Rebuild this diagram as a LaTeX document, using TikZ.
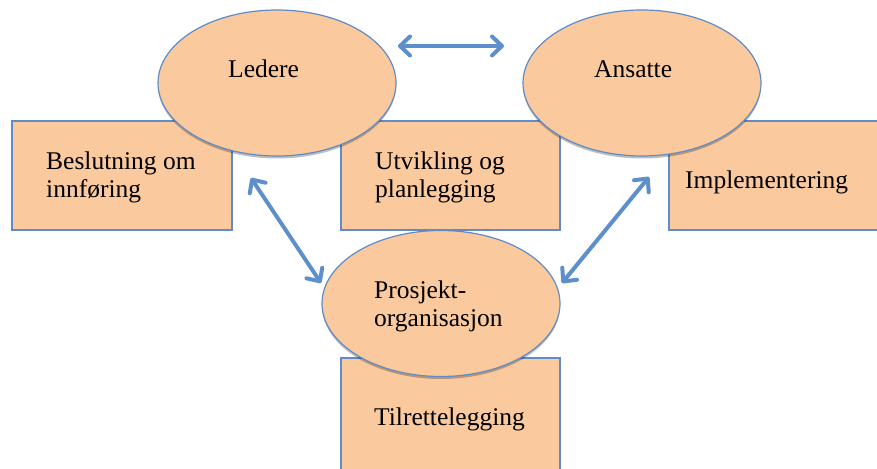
\documentclass[tikz,border=0pt]{standalone}
\usepackage{fontspec}
\setmainfont{Liberation Serif}
\usetikzlibrary{arrows.meta,shapes.geometric,shadows}
\definecolor{peach}{RGB}{250,201,158}
\definecolor{edge}{RGB}{95,140,198}
\definecolor{arrowblue}{RGB}{92,143,204}
\tikzset{
  box/.style={draw=edge, line width=1.2pt, fill=peach, rectangle, inner sep=0pt},
  oval/.style={draw=edge, line width=1.2pt, fill=peach, ellipse, inner sep=0pt,
    minimum width=238pt, minimum height=146pt,
    drop shadow={shadow xshift=0pt, shadow yshift=-2.5pt, opacity=0.25, fill=black}},
  lbl/.style={inner sep=0pt, anchor=base west, align=left,
    font=\fontsize{25.5}{28}\selectfont},
  link/.style={draw=arrowblue, line width=4pt,
    {Straight Barb[length=10pt,width=19pt,line cap=round,line join=round]}-{Straight Barb[length=10pt,width=19pt,line cap=round,line join=round]},
    line cap=round}
}
\begin{document}
\begin{tikzpicture}[x=1pt,y=-1pt]
\useasboundingbox (0,0) rectangle (877,468);
\clip (0,0) rectangle (877,468);
\fill[white] (0,0) rectangle (877,468);
% boxes
\node[box, minimum width=220pt, minimum height=109pt] (besl) at (122,175.5) {};
\node[box, minimum width=219pt, minimum height=109pt] (utv) at (450.5,175.5) {};
\node[box, minimum width=231pt, minimum height=109pt] (impl) at (784.5,175.5) {};
\node[box, minimum width=219pt, minimum height=118pt] (tilr) at (450.5,417) {};
% ellipses
\node[oval] (led) at (277,83) {};
\node[oval] (ans) at (642,83) {};
\node[oval] (pro) at (441,303.5) {};
% texts (base = baseline of last line)
\node[lbl] (besltxt) at (46,197) {Beslutning om\\innføring};
\node[lbl] (utvtxt) at (375,197) {Utvikling og\\planlegging};
\node[lbl] (impltxt) at (685,188) {Implementering};
\node[lbl] (tilrtxt) at (374,425) {Tilrettelegging};
\node[lbl] (protxt) at (374,326) {Prosjekt-\\organisasjon};
\node[lbl] (ledtxt) at (228,78) {Ledere};
\node[lbl] (anstxt) at (594,78) {Ansatte};
% arrow ends
\coordinate (a1) at (398,46);
\coordinate (a2) at (504,46);
\coordinate (b1) at (251,178);
\coordinate (b2) at (321,283);
\coordinate (c1) at (649,177);
\coordinate (c2) at (562,283);
\draw[link] (a1) -- (a2);
\draw[link] (b1) -- (b2);
\draw[link] (c1) -- (c2);
\end{tikzpicture}
\end{document}
